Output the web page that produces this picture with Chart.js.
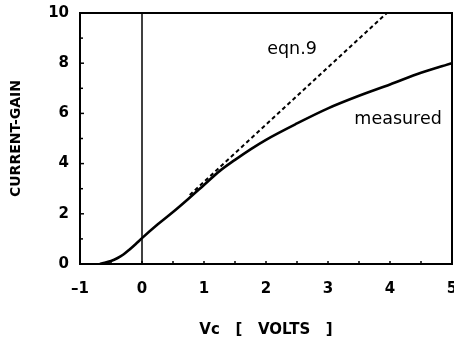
<!DOCTYPE html>
<html>
<head>
<meta charset="utf-8">
<script src="https://cdn.jsdelivr.net/npm/chart.js@4/dist/chart.umd.min.js"></script>
<style>
  html, body { margin: 0; padding: 0; background: #fff; }
  #wrap { width: 454px; height: 342px; position: relative; }
</style>
</head>
<body>
<div id="wrap"><canvas id="chart"></canvas></div>
<script>
// measured current gain vs collector voltage
const measuredX = [-0.68, -0.6, -0.5, -0.4, -0.3, -0.2, -0.1, 0, 0.25, 0.5, 0.75, 1, 1.25, 1.5, 1.75, 2, 2.5, 3, 3.5, 4, 4.5, 5];
const measuredY = [0, 0.05, 0.12, 0.23, 0.38, 0.58, 0.8, 1.03, 1.57, 2.07, 2.6, 3.15, 3.7, 4.15, 4.57, 4.95, 5.6, 6.2, 6.7, 7.15, 7.62, 8.0];

// eqn.9 straight-line prediction
const eqnX = [0.77, 3.95];
const eqnY = [2.75, 10];

// vertical reference at Vc = 0
const zeroX = [0, 0];
const zeroY = [0, 10];

const xTickLabels = [-1, 0, 1, 2, 3, 4, 5];
const yTickLabels = [0, 2, 4, 6, 8, 10];

const noteText = ['eqn.9', 'measured'];
const noteX = [2.42, 4.13];
const noteY = [8.53, 5.74];

const pts = (xs, ys) => xs.map((x, i) => ({ x: x, y: ys[i] }));
const boldFont = size => ({ family: '"DejaVu Sans", sans-serif', size: size, weight: 'bold' });

const frame = {
  id: 'frame',
  afterDraw(chart) {
    const { ctx, chartArea: a, scales } = chart;
    ctx.save();
    ctx.strokeStyle = '#000';
    ctx.lineWidth = 2;
    ctx.strokeRect(a.left, a.top, a.right - a.left, a.bottom - a.top);

    // inward tick marks
    ctx.lineWidth = 1.5;
    for (let v = -1; v <= 5; v += 0.5) {
      const px = scales.x.getPixelForValue(v);
      ctx.beginPath();
      ctx.moveTo(px, a.bottom);
      ctx.lineTo(px, a.bottom - 3);
      ctx.stroke();
    }
    for (let v = 0; v <= 10; v += 1) {
      const py = scales.y.getPixelForValue(v);
      ctx.beginPath();
      ctx.moveTo(a.left, py);
      ctx.lineTo(a.left + (v % 2 === 0 ? 4 : 3), py);
      ctx.stroke();
    }

    ctx.fillStyle = '#000';
    ctx.font = '17.5px "DejaVu Sans", sans-serif';
    ctx.textAlign = 'center';
    ctx.textBaseline = 'middle';
    noteText.forEach((t, i) => {
      ctx.fillText(t, scales.x.getPixelForValue(noteX[i]), scales.y.getPixelForValue(noteY[i]));
    });
    ctx.restore();
  }
};

new Chart(document.getElementById('chart'), {
  type: 'scatter',
  data: {
    datasets: [
      {
        data: pts(zeroX, zeroY),
        showLine: true,
        borderColor: '#000',
        borderWidth: 1.5,
        pointRadius: 0
      },
      {
        data: pts(eqnX, eqnY),
        showLine: true,
        borderColor: '#000',
        borderWidth: 2,
        borderDash: [4, 3],
        pointRadius: 0
      },
      {
        data: pts(measuredX, measuredY),
        showLine: true,
        borderColor: '#000',
        borderWidth: 2.6,
        cubicInterpolationMode: 'monotone',
        pointRadius: 0
      }
    ]
  },
  options: {
    responsive: true,
    maintainAspectRatio: false,
    animation: false,
    layout: { padding: { top: 13, right: 2, left: 0, bottom: 0 }, autoPadding: false },
    plugins: { legend: { display: false }, tooltip: { enabled: false } },
    scales: {
      x: {
        type: 'linear',
        min: -1,
        max: 5,
        afterFit(scale) {
          scale.height = 78;
          scale.paddingLeft = 0;
          scale.paddingRight = 0;
        },
        afterBuildTicks(scale) { scale.ticks = xTickLabels.map(v => ({ value: v })); },
        grid: { display: false },
        border: { display: false },
        ticks: {
          color: '#000',
          padding: 8,
          maxRotation: 0,
          font: boldFont(15),
          callback: v => (v < 0 ? '\u2013' + Math.abs(v) : String(v))
        },
        title: {
          display: true,
          text: 'Vc   [   VOLTS   ]',
          color: '#000',
          padding: { top: 0, bottom: 3 },
          font: boldFont(15)
        }
      },
      y: {
        type: 'linear',
        min: 0,
        max: 10,
        afterFit(scale) {
          scale.width = 80;
          scale.paddingTop = 0;
          scale.paddingBottom = 0;
        },
        afterBuildTicks(scale) { scale.ticks = yTickLabels.map(v => ({ value: v })); },
        grid: { display: false },
        border: { display: false },
        ticks: {
          color: '#000',
          padding: 3,
          font: boldFont(15)
        },
        title: {
          display: true,
          text: 'CURRENT-GAIN',
          color: '#000',
          padding: { top: 8, bottom: 0 },
          font: boldFont(14)
        }
      }
    }
  },
  plugins: [frame]
});
</script>
</body>
</html>
